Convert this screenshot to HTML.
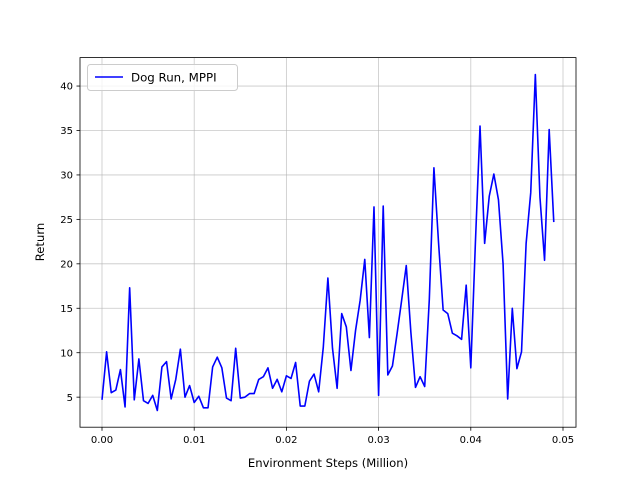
<!DOCTYPE html>
<html><head><meta charset="utf-8"><style>
body{margin:0;background:#fff;}
svg{display:block;font-family:"DejaVu Sans","Liberation Sans",sans-serif;}
</style></head><body>
<svg id="chart" width="640" height="480" viewBox="0 0 640 480" xmlns="http://www.w3.org/2000/svg">
<rect width="640" height="480" fill="#fff"/>
<g id="grid"></g>
<g id="ticks"></g>
<polyline id="series" fill="none" stroke="#0000ff" stroke-width="1.6" stroke-linejoin="round"/>
<rect x="80" y="57.6" width="496" height="369.6" fill="none" stroke="#000" stroke-width="0.8"/>
<text x="328" y="467" text-anchor="middle" font-size="11.6">Environment Steps (Million)</text>
<text transform="translate(44,242) rotate(-90)" text-anchor="middle" font-size="11.6">Return</text>
<g>
<rect x="87.5" y="64.5" width="150" height="26" rx="3" fill="#fff" fill-opacity="0.8" stroke="#ccc"/>
<line x1="95" y1="77" x2="123" y2="77" stroke="#0000ff" stroke-width="1.6"/>
<text x="131" y="81.5" font-size="11.8">Dog Run, MPPI</text>
</g>
</svg>
<script>
const values=[4.7,10.1,5.5,5.8,8.1,3.9,17.3,4.7,9.3,4.6,4.3,5.2,3.5,8.4,9.0,4.8,7.0,10.4,5.0,6.3,4.4,5.1,3.8,3.8,8.4,9.5,8.3,4.9,4.6,10.5,4.9,5.0,5.4,5.4,7.0,7.3,8.3,6.0,7.0,5.6,7.4,7.1,8.9,4.0,4.0,6.8,7.6,5.6,10.6,18.4,10.5,6.0,14.4,12.9,8.0,12.5,15.9,20.5,11.7,26.4,5.2,26.5,7.5,8.5,12.1,15.9,19.8,12.3,6.1,7.3,6.2,16.0,30.8,22.4,14.8,14.4,12.2,11.9,11.5,17.6,8.3,22.4,35.5,22.3,27.6,30.1,27.2,20.0,4.8,15.0,8.2,10.1,22.3,28.0,41.3,27.5,20.4,35.1,24.7];
const xStep=0.0005;
const xTicks=[0,0.01,0.02,0.03,0.04,0.05];
const xTickLabels=["0.00","0.01","0.02","0.03","0.04","0.05"];
const yTicks=[5,10,15,20,25,30,35,40];
const L=80,R=576,T=57.6,B=427.2;
const xMin=-0.002386,xMax=0.05141,yMin=1.62,yMax=43.2;
const sx=v=>L+(v-xMin)/(xMax-xMin)*(R-L);
const sy=v=>B-(v-yMin)/(yMax-yMin)*(B-T);
const NS="http://www.w3.org/2000/svg";
const grid=document.getElementById('grid'),ticks=document.getElementById('ticks');
function mk(tag,attrs,parent){const e=document.createElementNS(NS,tag);for(const k in attrs)e.setAttribute(k,attrs[k]);parent.appendChild(e);return e;}
xTicks.forEach((t,i)=>{const x=sx(t);
 const g=mk('line',{x1:x,x2:x,y1:T,y2:B,stroke:'#b0b0b0','stroke-width':0.8,'stroke-opacity':0.7},grid);
 
 
 const tk=mk('line',{x1:x,x2:x,y1:B,y2:B+3.5,stroke:'#000','stroke-width':0.8},ticks);
 
 
 const tx=mk('text',{x:x,y:B+16,'text-anchor':'middle','font-size':10},ticks);
 
 
 tx.textContent=xTickLabels[i];});
yTicks.forEach(t=>{const y=sy(t);
 const g=mk('line',{x1:L,x2:R,y1:y,y2:y,stroke:'#b0b0b0','stroke-width':0.8,'stroke-opacity':0.7},grid);
 
 
 const tk=mk('line',{x1:L-3.5,x2:L,y1:y,y2:y,stroke:'#000','stroke-width':0.8},ticks);
 
 
 const tx=mk('text',{x:L-7,y:y+3.6,'text-anchor':'end','font-size':10},ticks);
 
 
 tx.textContent=String(t);});
document.getElementById('series').setAttribute('points',values.map((v,i)=>sx(i*xStep).toFixed(2)+','+sy(v).toFixed(2)).join(' '));
</script>
</body></html>
